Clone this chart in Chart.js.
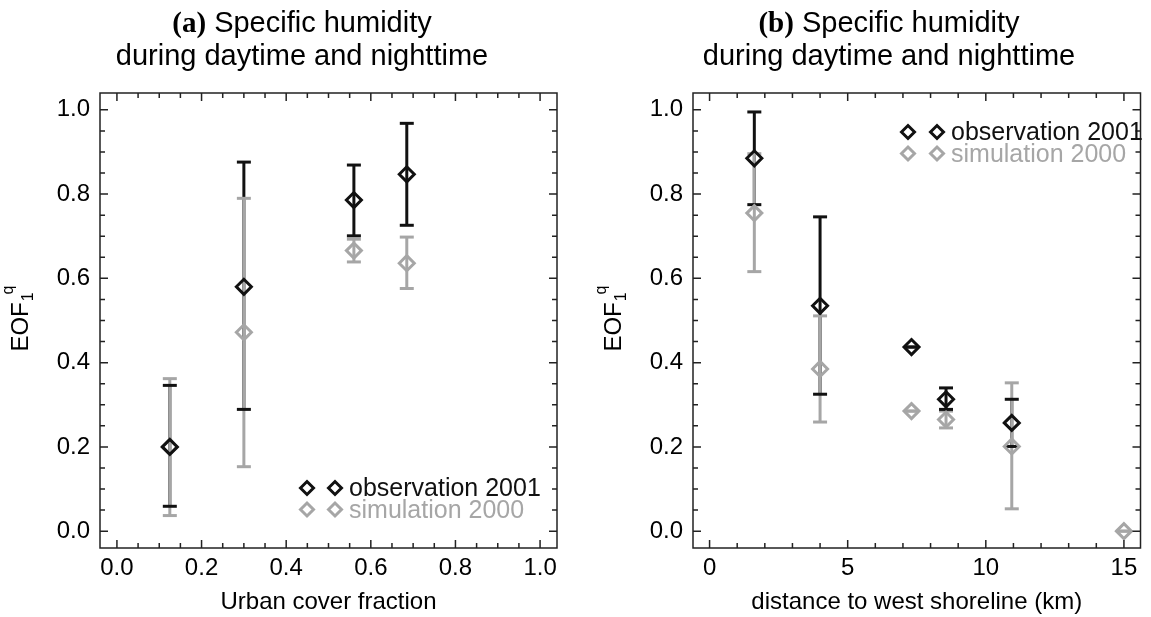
<!DOCTYPE html>
<html>
<head>
<meta charset="utf-8">
<script src="https://cdn.jsdelivr.net/npm/chart.js@4.4.1/dist/chart.umd.min.js"></script>
<style>
  body { margin: 0; background: #fff; }
  #wrap { position: relative; width: 1151px; height: 617px; }
  canvas { position: absolute; top: 0; }
</style>
</head>
<body>
<div id="wrap">
  <canvas id="panelA" width="575" height="617" style="left:0"></canvas>
  <canvas id="panelB" width="576" height="617" style="left:575px"></canvas>
</div>
<script>
// (a) EOF1 vs urban cover fraction
const urbanFraction = [0.125, 0.30, 0.56, 0.685];
const obsUrban      = [0.200, 0.580, 0.786, 0.847];
const obsUrbanLow   = [0.059, 0.289, 0.701, 0.726];
const obsUrbanHigh  = [0.346, 0.876, 0.869, 0.968];
const simUrban      = [0.200, 0.472, 0.666, 0.636];
const simUrbanLow   = [0.037, 0.153, 0.639, 0.576];
const simUrbanHigh  = [0.362, 0.790, 0.693, 0.698];

// (b) EOF1 vs distance to west shoreline
const distObs       = [1.62, 4.0, 7.31, 8.56, 10.94];
const obsShore      = [0.885, 0.535, 0.437, 0.313, 0.257];
const obsShoreLow   = [0.775, 0.325, 0.437, 0.289, 0.201];
const obsShoreHigh  = [0.995, 0.746, 0.437, 0.340, 0.313];
const distSim       = [1.62, 4.0, 7.31, 8.56, 10.94, 15.0];
const simShore      = [0.755, 0.385, 0.285, 0.265, 0.201, 0.0];
const simShoreLow   = [0.616, 0.259, 0.285, 0.245, 0.053, 0.0];
const simShoreHigh  = [0.896, 0.511, 0.285, 0.285, 0.352, 0.0];

const urbanTicks = [0, 0.2, 0.4, 0.6, 0.8, 1.0];
const distTicks  = [0, 5, 10, 15];
const eofTicks   = [0, 0.2, 0.4, 0.6, 0.8, 1.0];

const BLACK = '#111111';
const GRAY = '#a6a6a6';
const SANS = '"Liberation Sans", Arial, Helvetica, sans-serif';

const toPts = (xs, ys) => xs.map((v, i) => ({ x: v, y: ys[i] }));

// frame, inward ticks, error bars, title, y label and legend in IDL style
const idlPlugin = {
  id: 'idl',
  beforeDatasetsDraw(chart, args, o) {
    const { ctx, scales: { x, y } } = chart;
    ctx.save();
    ctx.lineCap = 'butt';
    // vertical bars first, black then gray
    o.bars.forEach(b => {
      ctx.strokeStyle = b.color; ctx.lineWidth = 3;
      b.xs.forEach((xv, i) => {
        if (b.lo[i] === b.hi[i]) return;
        const px = x.getPixelForValue(xv);
        ctx.beginPath();
        ctx.moveTo(px, y.getPixelForValue(b.lo[i]));
        ctx.lineTo(px, y.getPixelForValue(b.hi[i]));
        ctx.stroke();
      });
    });
    // caps, gray then black so black caps stay visible
    o.bars.slice().reverse().forEach(b => {
      ctx.strokeStyle = b.color; ctx.lineWidth = 3;
      b.xs.forEach((xv, i) => {
        const px = x.getPixelForValue(xv);
        [b.lo[i], b.hi[i]].forEach(v => {
          const py = y.getPixelForValue(v);
          ctx.beginPath();
          ctx.moveTo(px - 7, py);
          ctx.lineTo(px + 7, py);
          ctx.stroke();
        });
      });
    });
    ctx.restore();
  },
  afterDatasetsDraw(chart, args, o) {
    const { ctx, chartArea: a, scales: { x, y } } = chart;
    ctx.save();
    ctx.strokeStyle = '#222';
    ctx.lineWidth = 1.5;
    ctx.strokeRect(a.left, a.top, a.right - a.left, a.bottom - a.top);
    ctx.beginPath();
    const isMajor = (s, v) => s.ticks.some(t => Math.abs(t.value - v) < 1e-6);
    for (let i = Math.ceil(x.min / o.minorX); i * o.minorX <= x.max + 1e-9; i++) {
      const v = i * o.minorX, px = x.getPixelForValue(v);
      const len = isMajor(x, v) ? 8 : 5;
      ctx.moveTo(px, a.bottom); ctx.lineTo(px, a.bottom - len);
      ctx.moveTo(px, a.top); ctx.lineTo(px, a.top + len);
    }
    for (let i = Math.ceil(y.min / o.minorY); i * o.minorY <= y.max + 1e-9; i++) {
      const v = i * o.minorY, py = y.getPixelForValue(v);
      const len = isMajor(y, v) ? 8 : 5;
      ctx.moveTo(a.left, py); ctx.lineTo(a.left + len, py);
      ctx.moveTo(a.right, py); ctx.lineTo(a.right - len, py);
    }
    ctx.stroke();

    // legend: two diamonds then label
    const lg = o.legend;
    [[lg.labels[0], BLACK], [lg.labels[1], GRAY]].forEach(([txt, col], k) => {
      const cy = lg.y + k * lg.dy;
      ctx.strokeStyle = col; ctx.lineWidth = 3;
      [lg.s1, lg.s2].forEach(sx => {
        ctx.beginPath();
        ctx.moveTo(sx - 6.5, cy); ctx.lineTo(sx, cy - 6.5);
        ctx.lineTo(sx + 6.5, cy); ctx.lineTo(sx, cy + 6.5);
        ctx.closePath(); ctx.stroke();
      });
      ctx.fillStyle = col;
      ctx.font = '25px ' + SANS;
      ctx.textBaseline = 'alphabetic';
      ctx.textAlign = 'left';
      ctx.fillText(txt, lg.tx, cy + 8);
    });
    ctx.restore();
  },
  afterDraw(chart, args, o) {
    const { ctx, chartArea: a } = chart;
    ctx.save();
    ctx.fillStyle = '#000';
    ctx.textBaseline = 'alphabetic';
    ctx.textAlign = 'left';
    // title
    const tagFont = 'bold 29px "Liberation Serif", "Times New Roman", serif';
    const sansFont = '29px ' + SANS;
    ctx.font = tagFont; const w1 = ctx.measureText(o.tag).width;
    ctx.font = sansFont; const w2 = ctx.measureText(o.title1).width;
    let sx = o.titleX - (w1 + w2) / 2;
    ctx.font = tagFont; ctx.fillText(o.tag, sx, 32);
    ctx.font = sansFont; ctx.fillText(o.title1, sx + w1, 32);
    ctx.textAlign = 'center';
    ctx.fillText(o.title2, o.titleX, 65);

    // y label EOF_1^q, rotated
    ctx.translate(a.left - o.yLabelGap, (a.top + a.bottom) / 2);
    ctx.rotate(-Math.PI / 2);
    ctx.textAlign = 'left';
    ctx.font = '24px ' + SANS; const we = ctx.measureText('EOF').width;
    ctx.font = '16px ' + SANS; const ws = ctx.measureText('1').width;
    const x0 = -(we + ws + 4) / 2;
    ctx.font = '24px ' + SANS; ctx.fillText('EOF', x0, 8);
    ctx.font = '16px ' + SANS;
    ctx.fillText('1', x0 + we + 1, 13);
    ctx.fillText('q', x0 + we + ws - 1, -7);
    ctx.restore();
  }
};

function makePanel(id, c) {
  const tickFont = { family: SANS, size: 24 };
  return new Chart(document.getElementById(id), {
    type: 'scatter',
    data: {
      datasets: [
        { label: 'observation 2001', data: toPts(c.obsX, c.obsY), pointStyle: 'rectRot',
          pointRadius: 7.5, pointBorderWidth: 3, pointBorderColor: BLACK,
          pointBackgroundColor: 'rgba(0,0,0,0)' },
        { label: 'simulation 2000', data: toPts(c.simX, c.simY), pointStyle: 'rectRot',
          pointRadius: 7.5, pointBorderWidth: 3, pointBorderColor: GRAY,
          pointBackgroundColor: 'rgba(0,0,0,0)' }
      ]
    },
    options: {
      responsive: false,
      animation: false,
      events: [],
      layout: { padding: { top: 93, right: c.padRight, left: 0, bottom: 0 } },
      plugins: {
        legend: { display: false },
        tooltip: { enabled: false },
        idl: {
          bars: [
            { xs: c.obsX, lo: c.obsLo, hi: c.obsHi, color: BLACK },
            { xs: c.simX, lo: c.simLo, hi: c.simHi, color: GRAY }
          ],
          minorX: c.minorX, minorY: 0.05,
          tag: c.tag, title1: ' Specific humidity', title2: 'during daytime and nighttime',
          titleX: c.titleX, yLabelGap: 80,
          legend: { labels: ['observation 2001', 'simulation 2000'],
                    s1: c.legend[0], s2: c.legend[1], tx: c.legend[2], y: c.legend[3], dy: 21.5 }
        }
      },
      scales: {
        x: {
          type: 'linear', min: c.xMin, max: c.xMax,
          afterBuildTicks: s => { s.ticks = c.xTicks.map(v => ({ value: v })); },
          afterFit: s => { s.height = 69; },
          grid: { display: false, drawTicks: false },
          border: { display: false },
          ticks: { font: tickFont, color: '#000', padding: 6, autoSkip: false, maxRotation: 0,
                   callback: c.xFmt },
          title: { display: true, text: c.xTitle, font: tickFont, color: '#000',
                   padding: { top: 0, bottom: 0 } }
        },
        y: {
          type: 'linear', min: -0.04, max: 1.04,
          afterBuildTicks: s => { s.ticks = eofTicks.map(v => ({ value: v })); },
          afterFit: s => { s.width = c.yWidth; },
          grid: { display: false, drawTicks: false },
          border: { display: false },
          ticks: { font: tickFont, color: '#000', padding: 10, autoSkip: false,
                   callback: v => v.toFixed(1) }
        }
      }
    },
    plugins: [idlPlugin]
  });
}

makePanel('panelA', {
  obsX: urbanFraction, obsY: obsUrban, obsLo: obsUrbanLow, obsHi: obsUrbanHigh,
  simX: urbanFraction, simY: simUrban, simLo: simUrbanLow, simHi: simUrbanHigh,
  xMin: -0.04, xMax: 1.04, xTicks: urbanTicks, xFmt: v => v.toFixed(1), minorX: 0.05,
  xTitle: 'Urban cover fraction', tag: '(a)', titleX: 302,
  yWidth: 100, padRight: 18, legend: [307, 335, 349, 488]
});

makePanel('panelB', {
  obsX: distObs, obsY: obsShore, obsLo: obsShoreLow, obsHi: obsShoreHigh,
  simX: distSim, simY: simShore, simLo: simShoreLow, simHi: simShoreHigh,
  xMin: -0.6, xMax: 15.6, xTicks: distTicks, xFmt: v => String(v), minorX: 1,
  xTitle: 'distance to west shoreline (km)', tag: '(b)', titleX: 314,
  yWidth: 118, padRight: 2, legend: [333, 362, 376, 132]
});
</script>
</body>
</html>
